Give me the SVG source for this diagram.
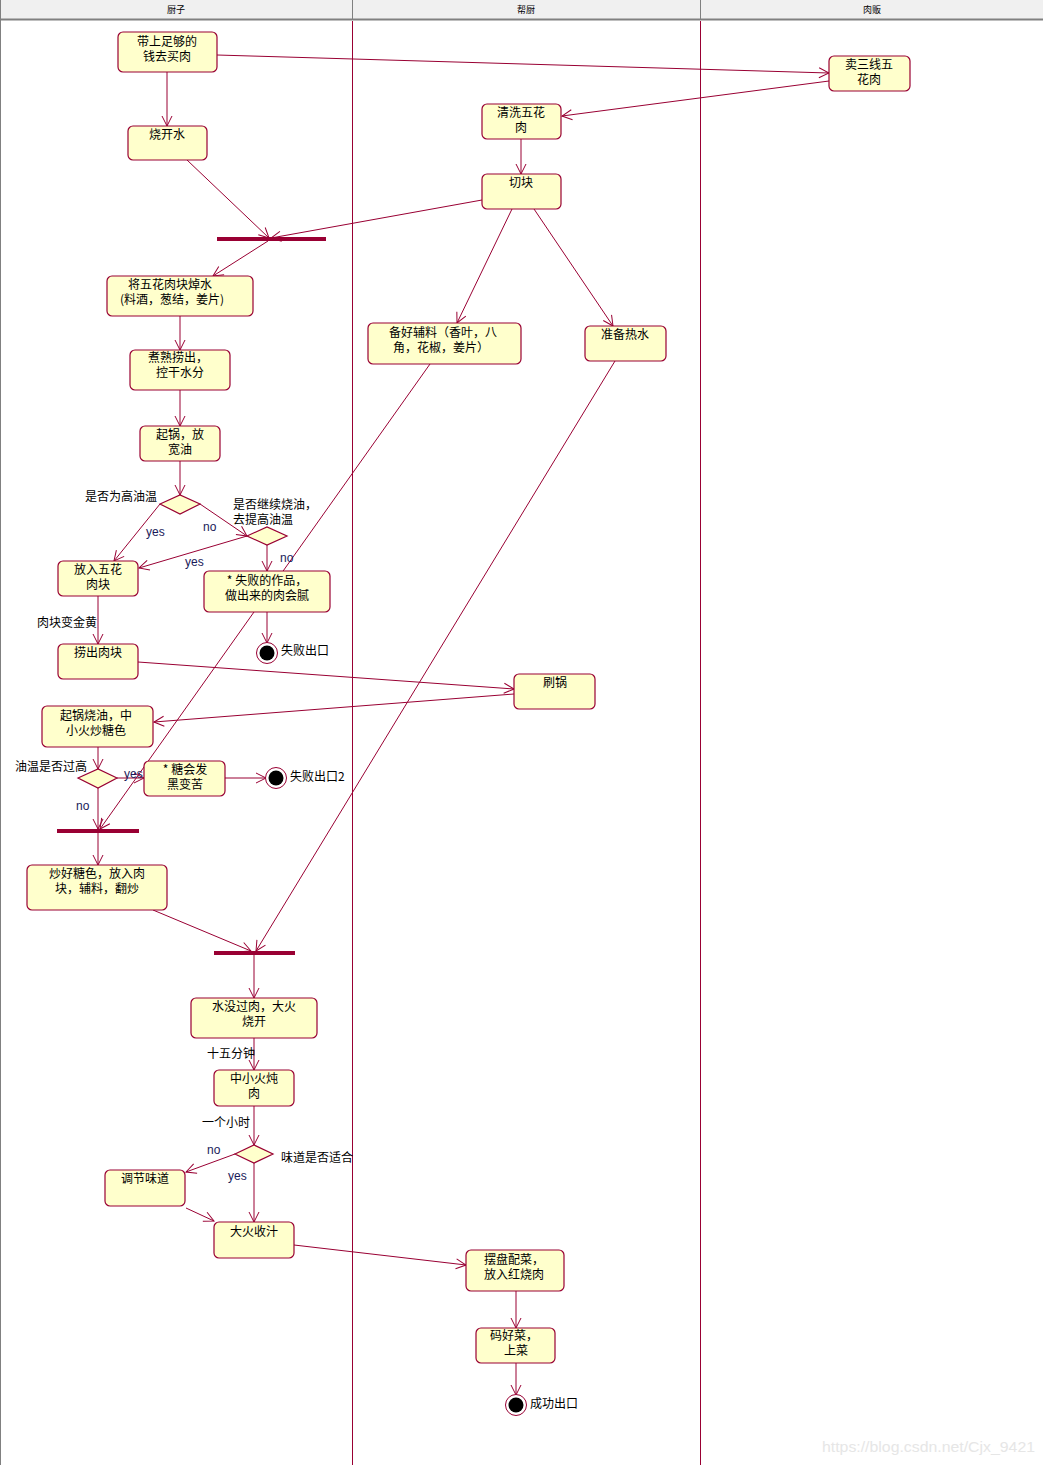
<svg xmlns="http://www.w3.org/2000/svg" width="1043" height="1465" viewBox="0 0 1043 1465">
<defs>
<marker id="ah" markerUnits="userSpaceOnUse" markerWidth="12" markerHeight="12" viewBox="0 0 12 12" refX="11" refY="6" orient="auto">
<path d="M1,1 L11,6 L1,11" fill="none" stroke="#990033" stroke-width="1"/>
</marker>
<style>
.n{fill:#FFFFCC;stroke:#990033;stroke-width:1.2}
.t{font-family:"Noto Sans CJK SC","Liberation Sans",sans-serif;font-size:12px;fill:#000;text-anchor:middle}
.l{font-family:"Noto Sans CJK SC","Liberation Sans",sans-serif;font-size:12px;fill:#000}
.g{font-family:"Liberation Sans",sans-serif;font-size:12px;fill:#1a1a5a}
.t,.l,.g{transform:translateY(1px)}
.e{stroke:#990033;stroke-width:1;fill:none;marker-end:url(#ah)}
.bar{fill:#990033}
.h{font-family:"Noto Sans CJK SC","Liberation Sans",sans-serif;font-size:9px;fill:#000;text-anchor:middle}
</style>
</defs>
<rect x="0" y="0" width="1043" height="1465" fill="#fff"/>
<g id="header">
<rect x="0" y="0" width="1043" height="19" fill="#F0F0F0"/>
<line x1="0" y1="19.5" x2="1043" y2="19.5" stroke="#808080" stroke-width="2"/>
<line x1="0.5" y1="0" x2="0.5" y2="1465" stroke="#808080"/>
<line x1="352.5" y1="0" x2="352.5" y2="19" stroke="#808080"/>
<line x1="700.5" y1="0" x2="700.5" y2="19" stroke="#808080"/>
<text class="h" x="176" y="13">厨子</text>
<text class="h" x="526" y="13">帮厨</text>
<text class="h" x="872" y="13">肉贩</text>
<line x1="352.5" y1="21" x2="352.5" y2="1465" stroke="#990033"/>
<line x1="700.5" y1="21" x2="700.5" y2="1465" stroke="#990033"/>
</g>
<g id="connectors">
<line class="e" x1="217" y1="55" x2="829" y2="73"/>
<line class="e" x1="829" y1="81" x2="562" y2="116"/>
<line class="e" x1="167" y1="72" x2="167" y2="126"/>
<line class="e" x1="521" y1="139" x2="521" y2="174"/>
<line class="e" x1="187" y1="160" x2="269" y2="238"/>
<line class="e" x1="482" y1="200" x2="271" y2="238"/>
<line class="e" x1="268" y1="241" x2="213" y2="276"/>
<line class="e" x1="180" y1="316" x2="180" y2="350"/>
<line class="e" x1="180" y1="390" x2="180" y2="426"/>
<line class="e" x1="180" y1="461" x2="180" y2="495"/>
<line class="e" x1="160" y1="504" x2="114" y2="561"/>
<line class="e" x1="200" y1="504" x2="247" y2="536"/>
<line class="e" x1="247" y1="536" x2="139" y2="568"/>
<line class="e" x1="267" y1="545" x2="267" y2="571"/>
<line class="e" x1="267" y1="612" x2="267" y2="643"/>
<line class="e" x1="98" y1="596" x2="98" y2="644"/>
<line class="e" x1="138" y1="662" x2="514" y2="689"/>
<line class="e" x1="514" y1="694" x2="154" y2="722"/>
<line class="e" x1="98" y1="747" x2="98" y2="769"/>
<line class="e" x1="117" y1="778" x2="144" y2="778"/>
<line class="e" x1="225" y1="778" x2="266" y2="778"/>
<line class="e" x1="98" y1="788" x2="98" y2="829"/>
<line class="e" x1="430" y1="364" x2="100" y2="829"/>
<line class="e" x1="98" y1="833" x2="98" y2="865"/>
<line class="e" x1="153" y1="910" x2="251" y2="951"/>
<line class="e" x1="615" y1="361" x2="256" y2="951"/>
<line class="e" x1="254" y1="955" x2="254" y2="998"/>
<line class="e" x1="254" y1="1038" x2="254" y2="1070"/>
<line class="e" x1="254" y1="1106" x2="254" y2="1145"/>
<line class="e" x1="235" y1="1154" x2="186" y2="1172"/>
<line class="e" x1="254" y1="1163" x2="254" y2="1222"/>
<line class="e" x1="186" y1="1208" x2="214" y2="1221"/>
<line class="e" x1="294" y1="1245" x2="466" y2="1265"/>
<line class="e" x1="516" y1="1291" x2="516" y2="1328"/>
<line class="e" x1="516" y1="1363" x2="516" y2="1395"/>
<line class="e" x1="512" y1="209" x2="457" y2="323"/>
<line class="e" x1="534" y1="209" x2="613" y2="326"/>
</g>
<g id="n1"><rect class="n" x="118" y="32" width="99" height="40" rx="5"/><text class="t" x="167" y="45">带上足够的</text><text class="t" x="167" y="60">钱去买肉</text></g>
<g id="n2"><rect class="n" x="128" y="126" width="79" height="34" rx="5"/><text class="t" x="167" y="138">烧开水</text></g>
<g id="n3"><rect class="n" x="829" y="56" width="81" height="35" rx="5"/><text class="t" x="869" y="68">卖三线五</text><text class="t" x="869" y="83">花肉</text></g>
<g id="n4"><rect class="n" x="482" y="104" width="79" height="35" rx="5"/><text class="t" x="521" y="116">清洗五花</text><text class="t" x="521" y="131">肉</text></g>
<g id="n5"><rect class="n" x="482" y="174" width="79" height="35" rx="5"/><text class="t" x="521" y="186">切块</text></g>
<g id="bar1"><rect class="bar" x="217" y="237" width="109" height="4"/></g>
<g id="n7"><rect class="n" x="107" y="276" width="146" height="40" rx="5"/><text class="t" x="170" y="288">将五花肉块焯水</text><text class="t" x="172" y="303">(料酒，葱结，姜片)</text></g>
<g id="n8"><rect class="n" x="130" y="350" width="100" height="40" rx="5"/><text class="t" x="178" y="361">煮熟捞出，</text><text class="t" x="180" y="376">控干水分</text></g>
<g id="n9"><rect class="n" x="140" y="426" width="80" height="35" rx="5"/><text class="t" x="180" y="438">起锅，放</text><text class="t" x="180" y="453">宽油</text></g>
<g id="d1"><polygon class="n" points="160,504 180,495 200,504 180,514"/><text class="l" x="85" y="500">是否为高油温</text></g>
<g id="d2"><polygon class="n" points="247,536 267,527 287,536 267,545"/><text class="l" x="233" y="508">是否继续烧油，</text><text class="l" x="233" y="523">去提高油温</text></g>
<g id="n12"><rect class="n" x="58" y="561" width="80" height="35" rx="5"/><text class="t" x="98" y="573">放入五花</text><text class="t" x="98" y="588">肉块</text></g>
<g id="n13"><rect class="n" x="204" y="571" width="126" height="41" rx="5"/><text class="t" x="267" y="584">* 失败的作品，</text><text class="t" x="267" y="599">做出来的肉会腻</text></g>
<g id="f1"><circle cx="267" cy="653" r="10.5" fill="#fff" stroke="#990033"/><circle cx="267" cy="653" r="7.5" fill="#000"/><text class="l" x="281" y="654">失败出口</text></g>
<g id="n15"><rect class="n" x="58" y="644" width="80" height="35" rx="5"/><text class="t" x="98" y="656">捞出肉块</text></g>
<g id="n16"><rect class="n" x="514" y="674" width="81" height="35" rx="5"/><text class="t" x="555" y="686">刷锅</text></g>
<g id="n17"><rect class="n" x="368" y="323" width="153" height="41" rx="5"/><text class="t" x="443" y="336">备好辅料（香叶，八</text><text class="t" x="441" y="351">角，花椒，姜片）</text></g>
<g id="n18"><rect class="n" x="585" y="326" width="81" height="35" rx="5"/><text class="t" x="625" y="338">准备热水</text></g>
<g id="n19"><rect class="n" x="42" y="706" width="111" height="41" rx="5"/><text class="t" x="96" y="719">起锅烧油，中</text><text class="t" x="96" y="734">小火炒糖色</text></g>
<g id="d3"><polygon class="n" points="78,778 98,769 117,778 98,788"/><text class="l" x="15" y="770">油温是否过高</text></g>
<g id="n21"><rect class="n" x="144" y="761" width="81" height="35" rx="5"/><text class="t" x="185" y="773">* 糖会发</text><text class="t" x="185" y="788">黑变苦</text></g>
<g id="f2"><circle cx="276" cy="778" r="10.5" fill="#fff" stroke="#990033"/><circle cx="276" cy="778" r="7.5" fill="#000"/><text class="l" x="290" y="780">失败出口2</text></g>
<g id="bar2"><rect class="bar" x="57" y="829" width="82" height="4"/></g>
<g id="n24"><rect class="n" x="27" y="865" width="140" height="45" rx="5"/><text class="t" x="97" y="877">炒好糖色，放入肉</text><text class="t" x="97" y="892">块，辅料，翻炒</text></g>
<g id="bar3"><rect class="bar" x="214" y="951" width="81" height="4"/></g>
<g id="n26"><rect class="n" x="191" y="998" width="126" height="40" rx="5"/><text class="t" x="254" y="1010">水没过肉，大火</text><text class="t" x="254" y="1025">烧开</text></g>
<g id="n27"><rect class="n" x="214" y="1070" width="80" height="36" rx="5"/><text class="t" x="254" y="1082">中小火炖</text><text class="t" x="254" y="1097">肉</text></g>
<g id="d4"><polygon class="n" points="235,1154 254,1145 273,1154 254,1163"/><text class="l" x="281" y="1161">味道是否适合</text></g>
<g id="n29"><rect class="n" x="105" y="1170" width="80" height="36" rx="5"/><text class="t" x="145" y="1182">调节味道</text></g>
<g id="n30"><rect class="n" x="214" y="1222" width="80" height="36" rx="5"/><text class="t" x="254" y="1235">大火收汁</text></g>
<g id="n31"><rect class="n" x="466" y="1250" width="98" height="41" rx="5"/><text class="t" x="514" y="1263">摆盘配菜，</text><text class="t" x="514" y="1278">放入红烧肉</text></g>
<g id="n32"><rect class="n" x="476" y="1328" width="79" height="35" rx="5"/><text class="t" x="514" y="1339">码好菜，</text><text class="t" x="516" y="1354">上菜</text></g>
<g id="f3"><circle cx="516" cy="1405" r="10.5" fill="#fff" stroke="#990033"/><circle cx="516" cy="1405" r="7.5" fill="#000"/><text class="l" x="530" y="1407">成功出口</text></g>
<g id="labels">
<text class="g" x="146" y="535">yes</text>
<text class="g" x="203" y="530">no</text>
<text class="g" x="185" y="565">yes</text>
<text class="g" x="280" y="561">no</text>
<text class="l" x="37" y="626">肉块变金黄</text>
<text class="g" x="124" y="777">yes</text>
<text class="g" x="76" y="809">no</text>
<text class="l" x="207" y="1057">十五分钟</text>
<text class="l" x="202" y="1126">一个小时</text>
<text class="g" x="207" y="1153">no</text>
<text class="g" x="228" y="1179">yes</text>
</g>
<text x="822" y="1452" font-family="Liberation Sans, sans-serif" font-size="15" textLength="213" lengthAdjust="spacingAndGlyphs" fill="#e6e6e6">https://blog.csdn.net/Cjx_9421</text>
</svg>
